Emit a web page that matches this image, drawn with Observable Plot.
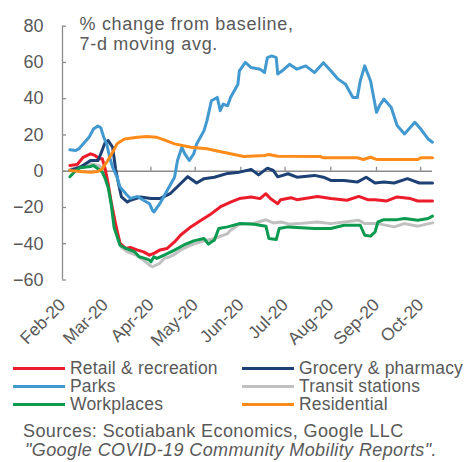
<!DOCTYPE html>
<html><head><meta charset="utf-8">
<script src="https://cdn.jsdelivr.net/npm/d3@7"></script>
<script src="https://cdn.jsdelivr.net/npm/@observablehq/plot@0.6"></script>
<style>
html,body{margin:0;padding:0;background:#fff;}
#wrap{position:relative;width:465px;height:462px;overflow:hidden;font-family:"Liberation Sans",Arial,sans-serif;color:#595959;}
#chart{position:absolute;left:0;top:0;}
#legend{position:absolute;left:13px;top:359px;display:grid;grid-template-columns:229px 223px;font-size:17.5px;letter-spacing:0.2px;}
.item{display:flex;align-items:center;height:18.4px;white-space:nowrap;}
.sw{width:52px;height:3px;margin-right:5px;flex:none;}
#src{position:absolute;left:23px;top:422px;font-size:18px;line-height:18.5px;white-space:nowrap;letter-spacing:0.4px;}
#src .it{font-style:italic;margin-left:2px;}
</style></head><body>
<div id="wrap"><div id="chart"></div><div id="legend"></div>
<div id="src"><div>Sources: Scotiabank Economics, Google LLC</div><div class="it">"Google COVID-19 Community Mobility Reports".</div></div></div>
<script>
const seriesNames = ["Retail & recreation","Grocery & pharmacy","Parks","Transit stations","Workplaces","Residential"];
const seriesColors = ["#ec1c2b","#1d4174","#4199d0","#c0c0c0","#0b9a4f","#ff8c1a"];
const yTicks = [-60,-40,-20,0,20,40,60,80];
const monthTicks = ["2020-02-01","2020-03-01","2020-04-01","2020-05-01","2020-06-01","2020-07-01","2020-08-01","2020-09-01","2020-10-01"];
const xDomain = ["2020-02-01","2020-10-09"];
const noteText = "% change from baseline,\n7-d moving avg.";

const retailDates = ["02-06","02-11","02-15","02-20","02-23","02-26","02-28","03-01","03-03","03-05","03-08","03-11","03-15","03-18","03-23","03-27","03-31","04-03","04-07","04-12","04-17","04-21","04-28","05-05","05-12","05-18","05-25","05-31","06-08","06-14","06-18","06-21","06-26","06-28","07-05","07-09","07-23","08-01","08-12","08-20","08-26","08-31","09-08","09-15","09-24","09-29","10-09"];
const retailValues = [3.2,3.7,7.7,9.6,8.7,6.9,6.9,1,-7,-17,-29,-39.8,-42.6,-42,-43.5,-44.5,-46.3,-45.3,-43.5,-42.6,-39,-35.3,-30.7,-27,-23.4,-19.7,-17,-15.1,-14.2,-15.1,-12.4,-15.1,-17.9,-15.7,-14.6,-15.7,-13.9,-15.1,-16,-13.9,-15.7,-15.7,-16.4,-14.2,-15.1,-16.4,-16.4];

const groceryDates = ["02-06","02-13","02-20","02-25","02-27","03-01","03-03","03-06","03-08","03-10","03-12","03-16","03-18","03-25","04-01","04-07","04-14","04-21","04-26","05-02","05-07","05-14","05-23","05-31","06-08","06-13","06-19","06-23","06-26","07-03","07-09","07-21","07-27","08-01","08-10","08-19","08-25","08-31","09-06","09-13","09-22","09-30","10-09"];
const groceryValues = [0.4,2.2,5.9,5.9,9.6,16,16.9,13.2,1.4,-6.9,-14.2,-17,-16,-14.2,-15.1,-15.1,-12.4,-6.9,-3,-6.5,-4.1,-3.3,-1.2,-0.5,1,-2,1.7,0.4,-3.1,-1.4,-3.3,-2.3,-3.3,-5.1,-5.1,-6,-3.3,-6.5,-6,-6.5,-4.1,-6.5,-6.5];

const parksDates = ["02-06","02-10","02-12","02-15","02-19","02-22","02-25","02-27","02-29","03-02","03-04","03-06","03-09","03-11","03-15","03-18","03-23","03-27","03-31","04-02","04-03","04-07","04-12","04-17","04-19","04-22","04-24","04-27","04-30","05-02","05-07","05-09","05-12","05-16","05-18","05-20","05-23","05-25","05-30","05-31","06-04","06-08","06-14","06-17","06-19","06-22","06-25","06-26","06-29","07-04","07-09","07-15","07-21","07-27","08-01","08-06","08-11","08-16","08-19","08-21","08-24","08-28","09-01","09-03","09-06","09-11","09-15","09-20","09-27","10-01","10-06","10-09"];
const parksValues = [11.8,11.4,12.3,15,18.7,23.3,25,24,18.7,15,7.7,2.2,-3.3,-8.7,-12.4,-15,-13.9,-16,-17.9,-21.5,-22.5,-17.9,-10.6,-3.3,5.9,13.2,9.6,5.9,9.6,15,22.4,27.9,38.9,40.7,33.4,37,36.1,40.7,48,55.4,60,57.2,56.3,54.4,62.7,63.6,62.7,53.6,55.4,59,56.3,58.1,54.4,59.9,55.4,50.8,48,40.7,40.7,49.8,58.1,49.8,32.5,36.1,39.8,35.2,25.2,20.6,27,23.3,17.8,16];

const transitDates = ["02-06","02-13","02-20","02-26","02-29","03-02","03-05","03-08","03-12","03-16","03-22","03-27","03-31","04-02","04-07","04-10","04-14","04-18","04-21","04-28","05-07","05-14","05-23","05-25","05-31","06-10","06-18","06-23","06-28","07-04","07-10","07-23","08-01","08-20","08-24","09-02","09-13","09-20","09-29","10-09"];
const transitValues = [1,2.5,4.1,3,0,-4,-17,-31,-42,-44.5,-46.3,-49,-51.8,-52.7,-50.8,-48.1,-47.2,-45.3,-43.5,-40.8,-38.4,-37.1,-34.4,-32.5,-29.2,-28.7,-26.8,-28.5,-28,-29.2,-28.9,-28,-28.9,-27,-28.9,-28.9,-30.7,-28.9,-30.3,-28.5];

const workDates = ["02-06","02-10","02-13","02-20","02-22","02-26","02-28","03-01","03-03","03-05","03-07","03-11","03-15","03-21","03-24","03-28","03-31","04-01","04-03","04-05","04-10","04-17","04-23","04-30","05-07","05-10","05-14","05-17","05-23","05-31","06-10","06-18","06-20","06-25","06-27","07-03","07-21","08-01","08-10","08-21","08-24","08-28","08-31","09-02","09-06","09-15","09-20","09-29","10-06","10-09"];
const workValues = [-3,0.4,1.9,2.6,3.2,0.8,-0.5,-4.1,-9,-18,-31,-40.8,-42.6,-44.5,-47.2,-48.1,-49,-50,-47.2,-48.1,-46.3,-43.5,-40.8,-38.4,-37.1,-40.2,-38,-31.6,-30.7,-28.9,-29.2,-30.3,-37.1,-37.7,-31.6,-30.7,-31.6,-31.6,-29.8,-29.8,-35.3,-35.8,-33.5,-28,-26.7,-26.7,-26.1,-27,-26.1,-24.8];

const residentialDates = ["02-06","02-13","02-20","02-25","02-28","03-02","03-06","03-09","03-14","03-23","03-29","04-05","04-10","04-17","04-28","05-09","05-20","05-25","06-03","06-17","06-20","06-26","07-25","07-27","08-19","08-23","08-28","09-01","09-29","10-01","10-09"];
const residentialValues = [0.4,-0.1,-0.5,-0.1,1.4,5,10.5,15.1,17.8,18.7,19.1,18.7,17.3,15.1,13.2,12.4,10.5,9.6,8.1,8.7,9.2,8.3,8.1,7.4,7.4,6.5,7.7,6.5,6.5,7.4,7.4];

const parse = d3.utcParse("%Y-%m-%d");
const rows = (name, dates, values) => dates.map((d, i) => ({series: name, date: parse("2020-" + d), value: values[i]}));
// drawing order
const data = [
  ...rows("Transit stations", transitDates, transitValues),
  ...rows("Retail & recreation", retailDates, retailValues),
  ...rows("Grocery & pharmacy", groceryDates, groceryValues),
  ...rows("Parks", parksDates, parksValues),
  ...rows("Workplaces", workDates, workValues),
  ...rows("Residential", residentialDates, residentialValues)
];
const months = monthTicks.map(parse);
const x0 = parse(xDomain[0]), x1 = parse(xDomain[1]);
const axisColor = "#8c8c8c";

const chart = Plot.plot({
  width: 465, height: 356,
  marginLeft: 62, marginRight: 33, marginTop: 25.7, marginBottom: 76.5,
  style: {fontFamily: "'Liberation Sans', Arial, sans-serif", fontSize: "18px", color: "#595959", background: "white", overflow: "visible"},
  x: {type: "utc", domain: [x0, x1]},
  y: {domain: [-60, 80]},
  color: {domain: seriesNames, range: seriesColors},
  marks: [
    Plot.axisY(yTicks, {tickSize: 0, tickPadding: 19, label: null, fill: "#595959"}),
    Plot.axisX(months, {tickSize: 0, tickPadding: 22, tickRotate: -45, tickFormat: d3.utcFormat("%b-%y"), label: null, fill: "#595959", fontSize: 17.5}),
    Plot.ruleX([x0], {y1: -60, y2: 80, stroke: axisColor, strokeWidth: 1.3}),
    Plot.ruleY(yTicks, {x1: x0, x2: x0, insetRight: -4, stroke: axisColor, strokeWidth: 1.3}),
    Plot.ruleY([0], {x1: x0, x2: x1, stroke: axisColor, strokeWidth: 1.5}),
    Plot.ruleX(months.slice(1), {y1: 0, y2: 0, insetTop: -4, stroke: axisColor, strokeWidth: 1.3}),
    Plot.line(data, {x: "date", y: "value", z: "series", stroke: "series", strokeWidth: 3, strokeLinejoin: "round", strokeLinecap: "round"}),
    Plot.text([noteText], {frameAnchor: "top-left", dx: 17, dy: -10, lineAnchor: "top", textAnchor: "start", fontSize: 18, lineHeight: 1.1, fill: "#595959"})
  ]
});
chart.querySelectorAll("text").forEach(t => {
  if (t.textContent.startsWith("%")) t.style.letterSpacing = "0.7px";
});
document.getElementById("chart").appendChild(chart);

const legendOrder = ["Retail & recreation","Grocery & pharmacy","Parks","Transit stations","Workplaces","Residential"];
const legend = document.getElementById("legend");
legendOrder.forEach(name => {
  const it = document.createElement("div");
  it.className = "item";
  const sw = document.createElement("span");
  sw.className = "sw";
  sw.style.background = seriesColors[seriesNames.indexOf(name)];
  const lb = document.createElement("span");
  lb.textContent = name;
  it.appendChild(sw); it.appendChild(lb);
  legend.appendChild(it);
});
</script>
</body></html>
